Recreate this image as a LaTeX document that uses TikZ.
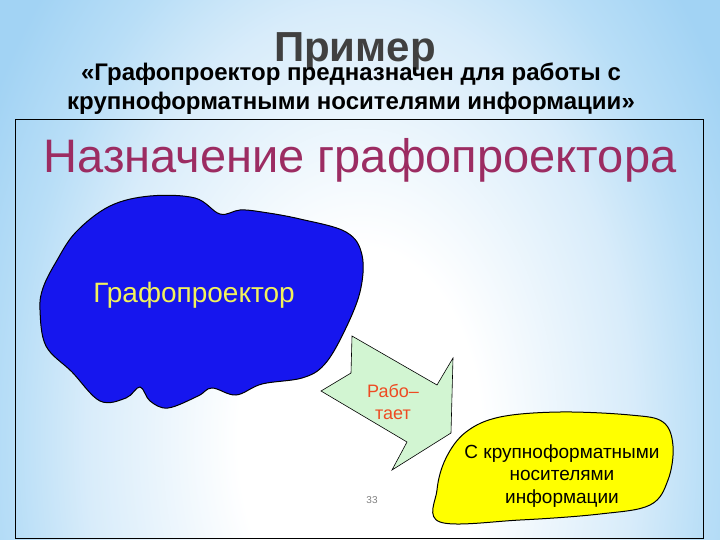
\documentclass[tikz,border=0pt]{standalone}
\usepackage{fontspec}
\setmainfont{Liberation Sans}
\usetikzlibrary{positioning}
\definecolor{skyblue}{HTML}{A2D3F4}
\definecolor{midblue}{HTML}{B8DEF7}
\definecolor{paleblue}{HTML}{D8ECFA}
\definecolor{headgray}{HTML}{404040}
\definecolor{titlepurple}{HTML}{9C2C62}
\definecolor{cloudblue}{HTML}{1616EE}
\definecolor{cloudtext}{HTML}{F2F25C}
\definecolor{arrowgreen}{HTML}{D2F5D2}
\definecolor{worktext}{HTML}{EE4A22}
\definecolor{blobyellow}{HTML}{FFFF00}
\pgfdeclareradialshading{slideshade}{\pgfpoint{0bp}{0bp}}{%
  color(0bp)=(white); color(8bp)=(white); color(18bp)=(paleblue);
  color(23bp)=(midblue); color(28bp)=(skyblue); color(50bp)=(skyblue)}

\begin{document}
\begin{tikzpicture}[x=1pt,y=-1pt,
	every node/.style={inner sep=0pt},
	bodytext/.style={font=\fontsize{18}{22.5}\selectfont,align=center}]
	\useasboundingbox (0,0) rectangle (720,540);
	\begin{scope}
		\clip (0,0) rectangle (720,540);
		\shade[shading=slideshade] (-20,-160) rectangle (740,1040);
	\end{scope}
	% heading
	\node[headgray,font=\fontsize{42}{48}\selectfont\bfseries,anchor=base] (head) at (355,62) {Пример};
	\node[font=\fontsize{24}{29}\selectfont\bfseries,align=center] (quote) at (351,89)
		{«Графопроектор предназначен для работы с\\крупноформатными носителями информации»};
	\draw[line width=0.8pt] (15,119) rectangle (703,538);
	\node[titlepurple,font=\fontsize{47}{52}\selectfont,anchor=base] (title) at (360,173) {Назначение графопроектора};
	% cloud
	\draw[fill=cloudblue,line width=1pt] plot[smooth cycle,tension=0.6] coordinates {
		(40,310) (46,346) (72,372) (100,401) (126,398) (140,387) (150,401) (168,408)
		(198,396) (212,388) (236,395) (262,384) (302,378) (324,365) (343,334) (360,292)
		(362,255) (346,232) (300,219) (262,212) (240,210) (220,214) (195,198) (150,196)
		(110,206) (76,232) (56,262) (43,288)};
	\node[cloudtext,font=\fontsize{28}{32}\selectfont] (proj) at (194,295) {Графопроектор};
	% arrow
	\draw[fill=arrowgreen,line width=0.6pt] (321,391) -- (351,373) -- (352,336) -- (437,385)
		-- (453,358) -- (451,433) -- (392,470) -- (407,442) -- cycle;
	\node[bodytext,worktext] (works) at (393,402) {Рабо–\\тает};
	% yellow blob
	\draw[fill=blobyellow,line width=1pt] plot[smooth cycle,tension=0.6] coordinates {
		(440,522) (437,490) (446,458) (466,432) (500,417) (560,412) (630,415) (663,422)
		(673,446) (668,480) (650,505) (600,514) (520,520)};
	\node[bodytext,font=\fontsize{19}{22.5}\selectfont] (media) at (562,476) {С крупноформатными\\носителями\\информации};
	\node[gray,font=\fontsize{10}{12}\selectfont] (page) at (372,500) {33};
\end{tikzpicture}
\end{document}
